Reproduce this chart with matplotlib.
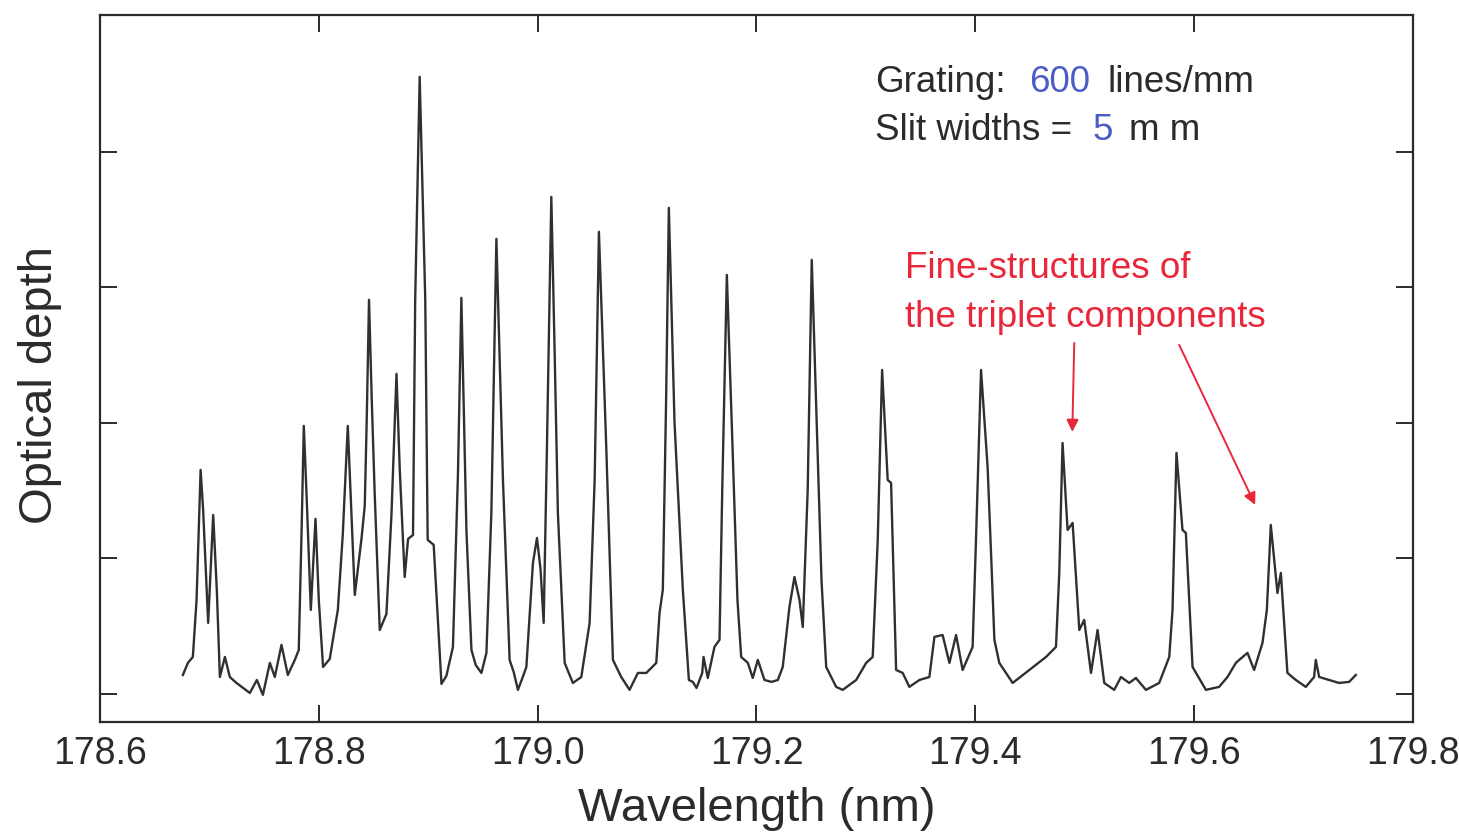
import numpy as np
import matplotlib
matplotlib.use("Agg")
import matplotlib.pyplot as plt

plt.rcParams['font.family'] = ['Liberation Sans', 'DejaVu Sans']

# absorption spectrum
wavelength = [
    178.6758, 178.6804, 178.6849, 178.6883, 178.6920, 178.6943, 178.6989, 178.7035, 178.7068, 178.7096,
    178.7142, 178.7187, 178.7248, 178.7370, 178.7434, 178.7489, 178.7553, 178.7598, 178.7659, 178.7717,
    178.7781, 178.7817, 178.7845, 178.7863, 178.7890, 178.7927, 178.7970, 178.8000, 178.8039, 178.8100,
    178.8174, 178.8219, 178.8265, 178.8301, 178.8329, 178.8390, 178.8420, 178.8438, 178.8459, 178.8484,
    178.8511, 178.8557, 178.8618, 178.8664, 178.8710, 178.8740, 178.8785, 178.8816, 178.8861, 178.8881,
    178.8922, 178.8973, 178.8995, 178.9050, 178.9087, 178.9121, 178.9166, 178.9226, 178.9272, 178.9303,
    178.9349, 178.9395, 178.9434, 178.9486, 178.9532, 178.9577, 178.9623, 178.9683, 178.9744, 178.9781,
    178.9820, 178.9854, 178.9897, 178.9957, 178.9994, 179.0027, 179.0055, 179.0085, 179.0125, 179.0155,
    179.0185, 179.0247, 179.0322, 179.0399, 179.0475, 179.0521, 179.0560, 179.0594, 179.0627, 179.0688,
    179.0764, 179.0840, 179.0916, 179.0993, 179.1084, 179.1114, 179.1144, 179.1174, 179.1199, 179.1251,
    179.1327, 179.1382, 179.1418, 179.1452, 179.1504, 179.1516, 179.1555, 179.1616, 179.1662, 179.1687,
    179.1729, 179.1784, 179.1826, 179.1860, 179.1921, 179.1966, 179.2012, 179.2073, 179.2137, 179.2195,
    179.2240, 179.2301, 179.2347, 179.2393, 179.2423, 179.2468, 179.2505, 179.2560, 179.2594, 179.2637,
    179.2728, 179.2788, 179.2849, 179.2911, 179.3002, 179.3062, 179.3108, 179.3148, 179.3199, 179.3230,
    179.3276, 179.3336, 179.3397, 179.3489, 179.3580, 179.3626, 179.3701, 179.3763, 179.3824, 179.3884,
    179.3975, 179.4006, 179.4052, 179.4112, 179.4146, 179.4174, 179.4219, 179.4341, 179.4493, 179.4646,
    179.4737, 179.4767, 179.4797, 179.4843, 179.4889, 179.4950, 179.4995, 179.5057, 179.5117, 179.5178,
    179.5269, 179.5331, 179.5406, 179.5467, 179.5559, 179.5680, 179.5772, 179.5802, 179.5838, 179.5893,
    179.5924, 179.5985, 179.6107, 179.6228, 179.6304, 179.6381, 179.6411, 179.6487, 179.6548, 179.6624,
    179.6664, 179.6700, 179.6761, 179.6792, 179.6852, 179.6929, 179.7020, 179.7096, 179.7111, 179.7142,
    179.7233, 179.7324, 179.7416, 179.7477,
]
optical_depth = [
    0.140, 0.229, 0.273, 0.694, 1.653, 1.358, 0.524, 1.321, 0.768, 0.125,
    0.273, 0.125, 0.081, 0.007, 0.103, -0.007, 0.229, 0.125, 0.362, 0.140,
    0.251, 0.325, 1.284, 1.978, 1.432, 0.620, 1.292, 0.694, 0.199, 0.258,
    0.620, 1.173, 1.978, 1.284, 0.731, 1.144, 1.387, 2.022, 2.908, 2.170,
    1.476, 0.472, 0.590, 1.321, 2.362, 1.653, 0.863, 1.144, 1.173, 2.908,
    4.554, 2.908, 1.137, 1.100, 0.561, 0.074, 0.133, 0.347, 1.631, 2.923,
    1.210, 0.325, 0.214, 0.155, 0.303, 1.336, 3.358, 1.579, 0.251, 0.162,
    0.030, 0.103, 0.199, 0.967, 1.151, 0.915, 0.524, 1.823, 3.668, 2.539,
    1.336, 0.229, 0.081, 0.125, 0.524, 1.579, 3.410, 2.613, 1.823, 0.251,
    0.125, 0.030, 0.155, 0.155, 0.229, 0.598, 0.768, 2.170, 3.587, 2.000,
    0.768, 0.103, 0.089, 0.044, 0.155, 0.273, 0.118, 0.347, 0.399, 1.506,
    3.092, 1.749, 0.694, 0.273, 0.229, 0.118, 0.251, 0.103, 0.089, 0.103,
    0.199, 0.642, 0.863, 0.694, 0.494, 1.506, 3.203, 1.749, 0.841, 0.199,
    0.052, 0.030, 0.066, 0.103, 0.229, 0.273, 1.137, 2.391, 1.579, 1.557,
    0.177, 0.155, 0.052, 0.103, 0.125, 0.421, 0.435, 0.229, 0.435, 0.177,
    0.347, 1.137, 2.391, 1.675, 0.989, 0.399, 0.229, 0.081, 0.177, 0.273,
    0.347, 0.893, 1.852, 1.210, 1.262, 0.472, 0.546, 0.155, 0.472, 0.081,
    0.030, 0.125, 0.081, 0.118, 0.030, 0.081, 0.273, 0.620, 1.779, 1.210,
    1.188, 0.199, 0.030, 0.052, 0.125, 0.229, 0.251, 0.303, 0.177, 0.376,
    0.620, 1.247, 0.745, 0.893, 0.155, 0.103, 0.052, 0.125, 0.251, 0.125,
    0.103, 0.081, 0.089, 0.140,
]

x_ticks = [178.6, 178.8, 179.0, 179.2, 179.4, 179.6, 179.8]
x_tick_labels = ['178.6', '178.8', '179.0', '179.2', '179.4', '179.6', '179.8']
y_ticks = [0, 1, 2, 3, 4]

ink = '#2b2b2b'
red = '#e8283a'
blue = '#4b5cc4'

fig = plt.figure(figsize=(14.59, 8.34), dpi=100)
ax = fig.add_axes([0.0685, 0.1343, 0.9, 0.8477])

ax.plot(wavelength, optical_depth, color='#303030', lw=1.7, solid_joinstyle='round')

ax.set_xlim(178.6, 179.8)
ax.set_ylim(-0.207, 5.01)
ax.set_xticks(x_ticks)
ax.set_xticklabels(x_tick_labels)
ax.set_yticks(y_ticks)
ax.set_yticklabels([])
ax.tick_params(direction='in', length=12, width=1.4, colors=ink,
               top=True, right=True, labelsize=27, pad=10)

for sp in ax.spines.values():
    sp.set_linewidth(1.6)
    sp.set_color(ink)

ax.set_xlabel('Wavelength (nm)', fontsize=34, color=ink, labelpad=11)
ax.set_ylabel('Optical depth', fontsize=34, color=ink)
ax.yaxis.set_label_coords(-0.029, 0.477)

# spectrometer settings
fs = 26.5
ax.text(179.3087, 4.443, 'Grating:', fontsize=fs, color=ink, va='baseline')
ax.text(179.4493, 4.443, '600', fontsize=fs, color=blue, va='baseline')
ax.text(179.5205, 4.443, 'lines/mm', fontsize=fs, color=ink, va='baseline')
ax.text(179.3087, 4.089, 'Slit widths =', fontsize=fs, color=ink, va='baseline')
ax.text(179.5068, 4.089, '5', fontsize=fs, color=blue, va='baseline')
ax.text(179.5406, 4.089, 'm m', fontsize=fs, color=ink, va='baseline')

# fine-structure note with arrows
ax.text(179.3361, 3.070, 'Fine-structures of', fontsize=fs, color=red, va='baseline')
ax.text(179.3361, 2.708, 'the triplet components', fontsize=fs, color=red, va='baseline')
arrow = dict(arrowstyle='-|>', color=red, lw=1.4, mutation_scale=18,
             shrinkA=0, shrinkB=0)
ax.annotate('', xy=(179.4886, 1.934), xytext=(179.4904, 2.590), arrowprops=arrow)
ax.annotate('', xy=(179.6557, 1.395), xytext=(179.5863, 2.576), arrowprops=arrow)

fig.savefig('out.png', dpi=100)
